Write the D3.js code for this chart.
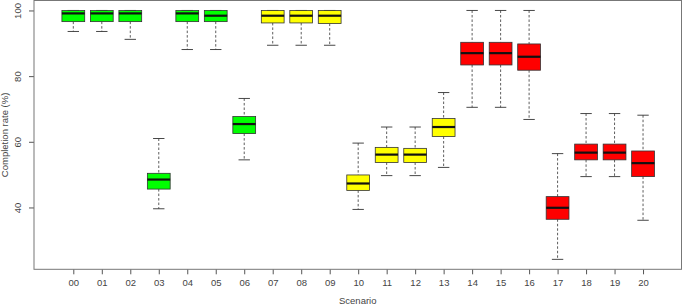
<!DOCTYPE html>
<html>
<head>
<meta charset="utf-8">
<script src="https://cdn.jsdelivr.net/npm/d3@7"></script>
<style>
  html, body { margin: 0; padding: 0; background: #fff; }
  svg { display: block; font-family: "Liberation Sans", Arial, sans-serif; }
</style>
</head>
<body>
<svg id="chart"></svg>
<script>
// Scenario labels and box statistics (completion rate %)
const scenarios = ['00', '01', '02', '03', '04', '05', '06', '07', '08', '09', '10',
                   '11', '12', '13', '14', '15', '16', '17', '18', '19', '20'];
const whiskerLow = [93.6, 93.6, 91.2, 39.6, 88.1, 88.1, 54.5, 89.4, 89.4, 89.4, 39.4,
                    49.7, 49.7, 52.2, 70.5, 70.5, 66.8, 24.2, 49.4, 49.4, 36.1];
const q1 =         [96.6, 96.6, 96.6, 45.6, 96.6, 96.6, 62.5, 96.2, 96.2, 96.0, 45.2,
                    53.7, 53.7, 61.6, 83.4, 83.4, 81.8, 36.4, 54.5, 54.5, 49.4];
const medians =    [99.1, 99.1, 99.1, 48.5, 99.1, 98.4, 65.4, 98.4, 98.4, 98.4, 47.3,
                    56.1, 56.1, 64.5, 87.0, 87.0, 85.9, 39.9, 56.7, 56.7, 53.5];
const q3 =         [100, 100, 100, 50.4, 100, 100, 67.7, 100, 100, 100, 49.9,
                    58.3, 58.0, 67.1, 90.3, 90.3, 89.8, 43.3, 59.3, 59.3, 57.2];
const whiskerHigh = [100, 100, 100, 61.0, 100, 100, 73.2, 100, 100, 100, 59.6,
                     64.5, 64.5, 75.0, 100, 100, 100, 56.4, 68.6, 68.6, 68.1];
const groups =     ['g', 'g', 'g', 'g', 'g', 'g', 'g', 'y', 'y', 'y', 'y',
                    'y', 'y', 'y', 'r', 'r', 'r', 'r', 'r', 'r', 'r'];
const yTicks = [40, 60, 80, 100];

const groupColors = { g: '#00ff00', y: '#ffff00', r: '#ff0000' };

const width = 683, height = 305;
const plot = { left: 34, right: 681.5, top: 0.5, bottom: 269.3 };

const svg = d3.select('#chart')
  .attr('width', width)
  .attr('height', height)
  .attr('viewBox', `0 0 ${width} ${height}`);

const boxes = scenarios.map((s, i) => ({
  label: s, i,
  lo: whiskerLow[i], q1: q1[i], med: medians[i], q3: q3[i], hi: whiskerHigh[i],
  color: groupColors[groups[i]]
}));

// R-style 4% padding on the data range
const yMin = d3.min(whiskerLow), yMax = d3.max(whiskerHigh);
const pad = (yMax - yMin) * 0.04;
const y = d3.scaleLinear()
  .domain([yMin - pad, yMax + pad])
  .range([plot.bottom, plot.top]);

// scenario index -> x centre
const x = d3.scaleLinear()
  .domain([-1.38, 21.35])
  .range([plot.left, plot.right]);

const step = x(1) - x(0);
const boxW = step * 0.8;
const capW = boxW * 0.5;

// Axes
const xAxis = svg.append('g')
  .attr('transform', `translate(0, ${plot.bottom})`)
  .call(d3.axisBottom(x)
    .tickValues(d3.range(scenarios.length))
    .tickFormat(i => scenarios[i])
    .tickSize(5)
    .tickPadding(5));
xAxis.select('.domain').remove();
xAxis.selectAll('line').attr('stroke', '#555');
xAxis.selectAll('text')
  .attr('font-size', '9.5px')
  .attr('fill', '#444')
  .attr('font-family', '"Liberation Sans", Arial, sans-serif');

const yAxis = svg.append('g')
  .attr('transform', `translate(${plot.left}, 0)`)
  .call(d3.axisLeft(y).tickValues(yTicks).tickSize(5).tickPadding(5));
yAxis.select('.domain').remove();
yAxis.selectAll('line').attr('stroke', '#555');
yAxis.selectAll('text')
  .attr('font-size', '9.5px')
  .attr('fill', '#444')
  .attr('font-family', '"Liberation Sans", Arial, sans-serif')
  .attr('text-anchor', 'middle')
  .attr('transform', function () {
    return 'rotate(-90)';
  })
  .attr('x', 0)
  .attr('y', 0)
  .attr('dy', null);
// reposition rotated tick labels
yAxis.selectAll('.tick text')
  .attr('transform', null)
  .each(function () {
    const t = d3.select(this);
    t.attr('transform', `translate(-13, 0) rotate(-90)`);
  });

// Frame
svg.append('rect')
  .attr('x', plot.left)
  .attr('y', plot.top)
  .attr('width', plot.right - plot.left)
  .attr('height', plot.bottom - plot.top)
  .attr('fill', 'none')
  .attr('stroke', '#777')
  .attr('stroke-width', 1);

// Boxes
const g = svg.append('g');
const box = g.selectAll('g.box')
  .data(boxes)
  .join('g')
  .attr('class', 'box');

// dashed whiskers
box.append('line')
  .attr('x1', d => x(d.i)).attr('x2', d => x(d.i))
  .attr('y1', d => y(d.hi)).attr('y2', d => y(d.q3))
  .attr('stroke', '#333').attr('stroke-width', 0.8)
  .attr('stroke-dasharray', '2.5 2');
box.append('line')
  .attr('x1', d => x(d.i)).attr('x2', d => x(d.i))
  .attr('y1', d => y(d.q1)).attr('y2', d => y(d.lo))
  .attr('stroke', '#333').attr('stroke-width', 0.8)
  .attr('stroke-dasharray', '2.5 2');

// caps
['hi', 'lo'].forEach(k => {
  box.append('line')
    .attr('x1', d => x(d.i) - capW / 2).attr('x2', d => x(d.i) + capW / 2)
    .attr('y1', d => y(d[k])).attr('y2', d => y(d[k]))
    .attr('stroke', '#333').attr('stroke-width', 0.9);
});

box.append('rect')
  .attr('x', d => x(d.i) - boxW / 2)
  .attr('y', d => y(d.q3))
  .attr('width', boxW)
  .attr('height', d => y(d.q1) - y(d.q3))
  .attr('fill', d => d.color)
  .attr('stroke', '#333')
  .attr('stroke-width', 0.8);

box.append('line')
  .attr('x1', d => x(d.i) - boxW / 2).attr('x2', d => x(d.i) + boxW / 2)
  .attr('y1', d => y(d.med)).attr('y2', d => y(d.med))
  .attr('stroke', '#111').attr('stroke-width', 2.2);

// Axis titles
svg.append('text')
  .attr('x', (plot.left + plot.right) / 2)
  .attr('y', 304)
  .attr('text-anchor', 'middle')
  .attr('font-size', '9.5px')
  .attr('fill', '#444')
  .text('Scenario');

svg.append('text')
  .attr('transform', `translate(8, ${(plot.top + plot.bottom) / 2}) rotate(-90)`)
  .attr('text-anchor', 'middle')
  .attr('font-size', '9.5px')
  .attr('fill', '#444')
  .text('Completion rate (%)');
</script>
</body>
</html>
